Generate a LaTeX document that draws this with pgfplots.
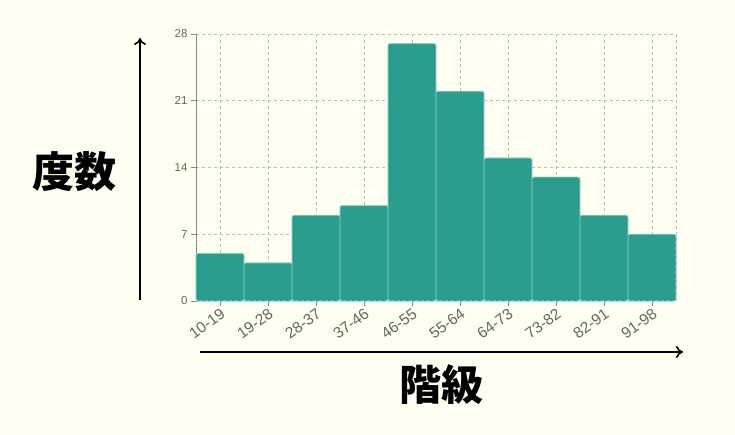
\documentclass[border=0pt]{standalone}
\usepackage{pgfplots}
\pgfplotsset{compat=1.18}
\usepackage{fontspec}
\setmainfont{Liberation Sans}
\newfontfamily\cjk{Noto Sans CJK JP}
\usetikzlibrary{arrows.meta}
\definecolor{bg}{HTML}{FEFFF0}
\definecolor{teal}{HTML}{2A9D8F}
\definecolor{bord}{HTML}{8FD3C8}
\definecolor{gridc}{HTML}{BBBBBB}
\definecolor{axc}{HTML}{888888}
\definecolor{tickc}{HTML}{666666}
\pgfplotstableread{
x y
0 5
1 4
2 9
3 10
4 27
5 22
6 15
7 13
8 9
9 7
}\freq
\begin{document}
\begin{tikzpicture}[x=1pt,y=1pt]
\fill[bg] (0,0) rectangle (735,435);
\begin{axis}[
  at={(196pt,134pt)}, anchor=south west,
  scale only axis, width=480pt, height=267pt,
  xmin=-0.5, xmax=9.5, ymin=0, ymax=28,
  axis x line*=bottom, axis y line*=left,
  axis line style={axc, line width=1pt},
  xtick={0,...,9},
  xticklabels={10-19,19-28,28-37,37-46,46-55,55-64,64-73,73-82,82-91,91-98},
  ytick={0,7,14,21,28},
  extra x ticks={9.5}, extra x tick labels={},
  extra x tick style={major tick length=0pt},
  tick align=outside, major tick length=5pt,
  tick style={axc, line width=0.8pt},
  grid=major,
  major grid style={gridc, dashed, line width=0.6pt},
  x tick label style={rotate=36, anchor=north east, font=\fontsize{15.5}{15.5}\selectfont, text=tickc, inner sep=1pt},
  y tick label style={font=\fontsize{11.5}{11.5}\selectfont, text=tickc},
  /pgf/number format/assume math mode=true,
  clip=false,
]
\addplot[ybar, bar width=1, fill=teal, draw=bord, line width=0.8pt, rounded corners=2pt] table[x=x,y=y] {\freq};
\end{axis}
\draw[line width=1.6pt, -{To[length=7pt,width=12pt]}] (140,135) -- (140,397);
\draw[line width=1.6pt, -{To[length=7pt,width=12pt]}] (200,83) -- (683,83);
\node[font=\cjk\bfseries\fontsize{42}{42}\selectfont] at (74,263) {度数};
\node[font=\cjk\bfseries\fontsize{42}{42}\selectfont] at (441,50) {階級};
\end{tikzpicture}
\end{document}
